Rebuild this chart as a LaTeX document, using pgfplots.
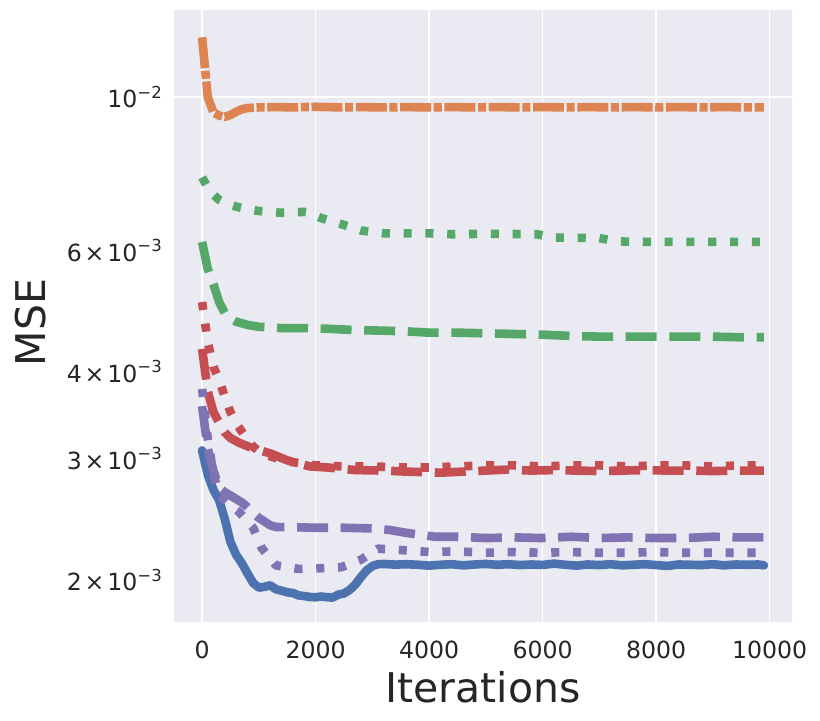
\documentclass[border=0pt]{standalone}
\usepackage{fontspec}
\setmainfont{DejaVu Sans}
\usepackage{pgfplots}
\pgfplotsset{compat=1.18}
\definecolor{bgc}{HTML}{EAEAF2}
\definecolor{tc}{HTML}{262626}
\definecolor{cb}{HTML}{4C72B0}
\definecolor{co}{HTML}{DD8452}
\definecolor{cg}{HTML}{55A868}
\definecolor{cr}{HTML}{C44E52}
\definecolor{cp}{HTML}{8172B3}
\newcommand{\sups}[1]{\raisebox{0.42em}{\fontsize{11.9}{12}\selectfont #1}}
\newcommand{\sci}[2]{#1\hspace{0.12em}×\hspace{0.12em}10\sups{−#2}}
\tikzset{
 dsh/.style={dash pattern=on 22.3pt off 9.1pt},
 dtt/.style={dash pattern=on 5.8pt off 9.9pt},
 dshdt/.style={dash pattern=on 22.3pt off 1.9pt on 5.8pt off 1.9pt}}
\begin{document}
\begin{tikzpicture}
\path[use as bounding box] (-125.28pt,-70.56pt) rectangle (465.12pt,447.84pt);
\begin{axis}[at={(0,0)}, anchor=south west, scale only axis,
 width=444.96pt, height=440.64pt,
 xmin=-495, xmax=10395, ymode=log, ymin=0.0017387, ymax=0.013363,
 axis background/.style={fill=bgc}, axis line style={draw=none},
 scaled x ticks=false,
 xtick={0,2000,4000,6000,8000,10000}, xticklabels={0,2000,4000,6000,8000,10000},
 ytick={0.002,0.003,0.004,0.006,0.01},
 yticklabels={\sci{2}{3},\sci{3}{3},\sci{4}{3},\sci{6}{3},10\sups{−2}},
 major tick length=0pt, minor tick length=0pt, yminorticks=false,
 xmajorgrids, grid style={white, line width=1.1pt},
 extra y ticks={0.01}, extra y tick labels={}, extra y tick style={grid=major},
 tick label style={font=\fontsize{17}{20}\selectfont, text=tc},
 xticklabel style={anchor=center, inner sep=0pt, yshift=-19.8pt},
 yticklabel style={anchor=east, inner sep=0pt, xshift=-8.6pt},
 xlabel={Iterations}, ylabel={MSE},
 label style={font=\fontsize{29.5}{32}\selectfont, text=tc, inner sep=0pt},
 xlabel style={at={(axis description cs:0.5,-0.1307)}, anchor=base},
 ylabel style={at={(axis description cs:-0.2314,0.4894)}, anchor=center},
 every axis plot/.append style={line width=6.2pt, line join=round},
]
% blue solid
\addplot[cb, line cap=round] coordinates {
(0,3.08e-3)(100,2.84e-3)(200,2.70e-3)(300,2.61e-3)(400,2.45e-3)(500,2.27e-3)
(600,2.175e-3)(700,2.115e-3)(800,2.045e-3)(900,1.98e-3)(1000,1.95e-3)(1100,1.955e-3)
(1200,1.965e-3)(1300,1.94e-3)(1400,1.93e-3)(1500,1.92e-3)(1600,1.915e-3)(1700,1.90e-3)
(1800,1.896e-3)(1900,1.89e-3)(2000,1.888e-3)(2100,1.893e-3)(2200,1.889e-3)(2300,1.886e-3)
(2400,1.905e-3)(2500,1.912e-3)(2600,1.935e-3)(2700,1.97e-3)(2800,2.02e-3)(2900,2.065e-3)
(3000,2.095e-3)(3100,2.108e-3)(3200,2.11e-3)(3400,2.105e-3)(3600,2.108e-3)(3800,2.104e-3)
(4000,2.098e-3)(4200,2.104e-3)(4400,2.108e-3)(4600,2.10e-3)(4800,2.106e-3)(5000,2.11e-3)
(5200,2.104e-3)(5400,2.108e-3)(5600,2.102e-3)(5800,2.106e-3)(6000,2.103e-3)(6200,2.112e-3)
(6400,2.104e-3)(6600,2.098e-3)(6800,2.106e-3)(7000,2.102e-3)(7200,2.108e-3)(7400,2.100e-3)
(7600,2.104e-3)(7800,2.108e-3)(8000,2.102e-3)(8200,2.096e-3)(8400,2.106e-3)(8600,2.104e-3)
(8800,2.102e-3)(9000,2.108e-3)(9200,2.100e-3)(9400,2.106e-3)(9600,2.104e-3)(9800,2.106e-3)(9900,2.100e-3)};
% orange dash-dot
\addplot[co, dshdt] coordinates {
(0,1.22e-2)(100,1.0e-2)(200,9.5e-3)(300,9.4e-3)(400,9.36e-3)(500,9.42e-3)(600,9.52e-3)
(700,9.6e-3)(800,9.64e-3)(1000,9.66e-3)(1300,9.67e-3)(1600,9.66e-3)(2000,9.68e-3)
(2400,9.66e-3)(2800,9.67e-3)(3200,9.66e-3)(3600,9.67e-3)(4000,9.66e-3)(4400,9.67e-3)
(4800,9.66e-3)(5200,9.67e-3)(5600,9.66e-3)(6000,9.67e-3)(6400,9.66e-3)(6800,9.67e-3)
(7200,9.66e-3)(7600,9.67e-3)(8000,9.66e-3)(8400,9.67e-3)(8800,9.66e-3)(9200,9.67e-3)(9600,9.66e-3)(9900,9.66e-3)};
% green dashed
\addplot[cg, dsh] coordinates {
(0,6.17e-3)(100,5.64e-3)(200,5.36e-3)(300,5.05e-3)(400,4.87e-3)(500,4.78e-3)(600,4.73e-3)
(800,4.68e-3)(1000,4.65e-3)(1400,4.63e-3)(1800,4.63e-3)(2200,4.62e-3)(2700,4.60e-3)
(3200,4.59e-3)(3600,4.58e-3)(4000,4.56e-3)(4500,4.56e-3)(5000,4.55e-3)(5500,4.54e-3)
(6000,4.53e-3)(6500,4.51e-3)(7000,4.50e-3)(7500,4.50e-3)(8000,4.50e-3)(8500,4.50e-3)
(9000,4.50e-3)(9500,4.49e-3)(9900,4.49e-3)};
% green dotted
\addplot[cg, dtt] coordinates {
(0,7.65e-3)(100,7.40e-3)(200,7.22e-3)(300,7.10e-3)(400,7.03e-3)(600,6.94e-3)(800,6.88e-3)
(1000,6.84e-3)(1400,6.80e-3)(1800,6.82e-3)(1900,6.80e-3)(2100,6.68e-3)(2500,6.53e-3)
(2800,6.41e-3)(3200,6.35e-3)(3600,6.35e-3)(4000,6.35e-3)(4400,6.33e-3)(5000,6.34e-3)
(5900,6.33e-3)(6200,6.26e-3)(7000,6.25e-3)(7300,6.18e-3)(8000,6.17e-3)(9000,6.17e-3)(9900,6.17e-3)};
% red dashed
\addplot[cr, dsh] coordinates {
(0,4.32e-3)(100,3.75e-3)(200,3.50e-3)(300,3.38e-3)(400,3.27e-3)(500,3.21e-3)(650,3.16e-3)
(900,3.10e-3)(1200,3.05e-3)(1500,2.98e-3)(1900,2.92e-3)(2200,2.91e-3)(2700,2.885e-3)
(3200,2.88e-3)(3600,2.87e-3)(4200,2.86e-3)(4600,2.87e-3)(5000,2.88e-3)(5400,2.89e-3)
(5800,2.88e-3)(6200,2.885e-3)(6600,2.88e-3)(7000,2.875e-3)(7400,2.88e-3)(7800,2.885e-3)
(8200,2.88e-3)(8600,2.88e-3)(9000,2.875e-3)(9400,2.88e-3)(9900,2.88e-3)};
% red dotted
\addplot[cr, dtt] coordinates {
(0,5.05e-3)(100,4.42e-3)(200,4.07e-3)(300,3.90e-3)(400,3.68e-3)(500,3.50e-3)(600,3.37e-3)
(700,3.28e-3)(800,3.19e-3)(900,3.12e-3)(1000,3.07e-3)(1200,3.02e-3)(1500,2.97e-3)
(2000,2.93e-3)(2500,2.92e-3)(3000,2.92e-3)(3500,2.91e-3)(4000,2.91e-3)(4500,2.92e-3)
(5000,2.93e-3)(5500,2.93e-3)(6000,2.92e-3)(6500,2.93e-3)(7000,2.93e-3)(7500,2.92e-3)
(8000,2.93e-3)(8500,2.93e-3)(9000,2.92e-3)(9500,2.93e-3)(9900,2.93e-3)};
% purple dashed
\addplot[cp, dsh] coordinates {
(0,3.57e-3)(100,3.10e-3)(200,2.88e-3)(300,2.72e-3)(400,2.68e-3)(500,2.65e-3)(600,2.62e-3)
(700,2.59e-3)(800,2.55e-3)(900,2.50e-3)(1000,2.46e-3)(1100,2.43e-3)(1200,2.40e-3)
(1300,2.386e-3)(1600,2.385e-3)(2000,2.38e-3)(2500,2.38e-3)(3000,2.375e-3)(3300,2.363e-3)
(3600,2.34e-3)(4100,2.31e-3)(4500,2.31e-3)(5000,2.30e-3)(5500,2.305e-3)(6000,2.30e-3)
(6500,2.31e-3)(7000,2.30e-3)(7500,2.305e-3)(8000,2.30e-3)(8500,2.30e-3)(9000,2.31e-3)(9500,2.305e-3)(9900,2.305e-3)};
% purple dotted
\addplot[cp, dtt] coordinates {
(0,3.78e-3)(100,3.20e-3)(200,2.85e-3)(300,2.66e-3)(450,2.58e-3)(650,2.51e-3)(900,2.38e-3)
(1050,2.225e-3)(1300,2.10e-3)(1700,2.075e-3)(2100,2.08e-3)(2450,2.087e-3)(2800,2.14e-3)
(3100,2.22e-3)(3500,2.21e-3)(4000,2.196e-3)(4500,2.20e-3)(5000,2.19e-3)(5500,2.195e-3)
(6000,2.19e-3)(6500,2.195e-3)(7000,2.19e-3)(7500,2.19e-3)(8000,2.195e-3)(8500,2.19e-3)
(9000,2.19e-3)(9500,2.19e-3)(9900,2.19e-3)};
\end{axis}
\end{tikzpicture}
\end{document}
